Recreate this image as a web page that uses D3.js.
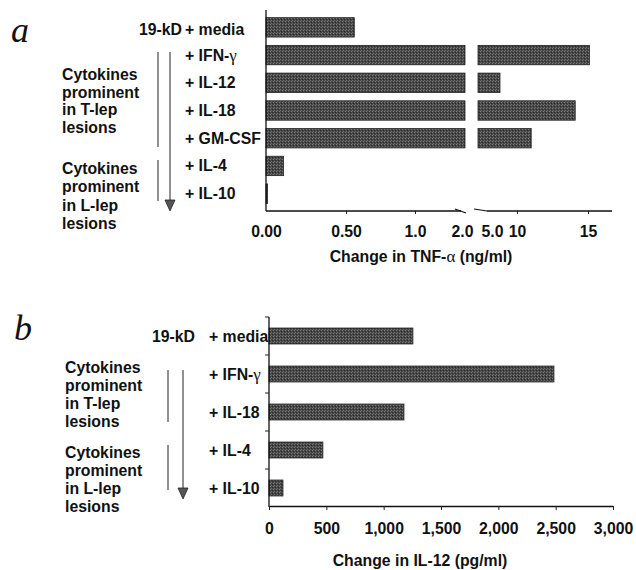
<!DOCTYPE html>
<html>
<head>
<meta charset="utf-8">
<script src="https://cdn.jsdelivr.net/npm/d3@7"></script>
<style>
  body { margin: 0; background: #fff; }
  svg { display: block; }
  text { font-family: "Liberation Sans", Arial, sans-serif; font-weight: bold; fill: #111; }
</style>
</head>
<body>
<svg id="chart" width="636" height="570"></svg>
<script>
// panel a: TNF-alpha
const treatA = ["+ media", "+ IFN-\u03b3", "+ IL-12", "+ IL-18", "+ GM-CSF", "+ IL-4", "+ IL-10"];
const tnf = [0.56, 15.1, 6.6, 14.1, 11.0, 0.11, 0.01];
const tnfTicks = [0, 0.5, 1, 2, 5, 10, 15];
const tnfTickLabels = ["0.00", "0.50", "1.0", "2.0", "5.0", "10", "15"];
const tnfBreak = 2;   // value where axis is broken

// panel b: IL-12
const treatB = ["+ media", "+ IFN-\u03b3", "+ IL-18", "+ IL-4", "+ IL-10"];
const il12 = [1255, 2485, 1177, 470, 122];
const il12Ticks = [0, 500, 1000, 1500, 2000, 2500, 3000];

const groupLines = [["Cytokines", "prominent", "in T-lep", "lesions"],
                    ["Cytokines", "prominent", "in L-lep", "lesions"]];

const svg = d3.select("#chart");
const FS = "15.8px";

// stippled grey fill like the printed figure
const defs = svg.append("defs");
const pat = defs.append("pattern").attr("id", "stip")
    .attr("width", 3).attr("height", 3).attr("patternUnits", "userSpaceOnUse");
pat.append("rect").attr("width", 3).attr("height", 3).attr("fill", "#474747");
pat.append("rect").attr("x", 0).attr("y", 0).attr("width", 1).attr("height", 1).attr("fill", "#7c7c7c");
pat.append("rect").attr("x", 2).attr("y", 1).attr("width", 1).attr("height", 1).attr("fill", "#262626");
pat.append("rect").attr("x", 1).attr("y", 2).attr("width", 1).attr("height", 1).attr("fill", "#6a6a6a");

function label(g, x, y, str, anchor) {
    const t = g.append("text").attr("x", x).attr("y", y)
        .style("font-size", FS)
        .attr("text-anchor", anchor || "start");
    // greek letters in a serif face, as in the print
    const parts = str.split(/([\u03b1\u03b3])/);
    parts.forEach(p => {
        if (p === "\u03b3" || p === "\u03b1") {
            t.append("tspan").style("font-family", "'Liberation Serif', serif")
                .style("font-weight", "normal").style("font-size", "17px").text(p);
        } else {
            t.append("tspan").text(p);
        }
    });
    return t;
}

function panelLetter(g, x, y, s) {
    g.append("text").attr("x", x).attr("y", y)
        .style("font-family", "'Liberation Serif', serif").style("font-style", "italic")
        .style("font-weight", "normal").style("font-size", "36px").text(s);
}

function groupText(g, x, y0, lines, step) {
    lines.forEach((s, i) => label(g, x, y0 + i * step, s));
}

function arrows(g, xs, xl, t0, t1, l0, l1, tip) {
    g.append("line").attr("x1", xs).attr("x2", xs).attr("y1", t0).attr("y2", t1);
    g.append("line").attr("x1", xs).attr("x2", xs).attr("y1", l0).attr("y2", l1);
    g.append("line").attr("x1", xl).attr("x2", xl).attr("y1", t0).attr("y2", tip - 8);
    g.append("path")
        .attr("d", `M${xl - 5},${tip - 11}L${xl + 5},${tip - 11}L${xl},${tip}Z`)
        .attr("fill", "#555").attr("stroke", "#222").attr("stroke-width", 0.8);
    g.selectAll("line").attr("stroke", "#222").attr("stroke-width", 1);
}

function styleTicks(ax) {
    ax.selectAll(".tick line").attr("stroke", "#222");
    ax.selectAll(".tick text").style("font-size", FS).attr("fill", "#111");
}

// ---------------- panel a ----------------
const ga = svg.append("g");
const xA = d3.scaleLinear().domain(tnfTicks).range([266, 346, 415, 462, 492, 517, 588]);
const yA = d3.scaleBand().domain(treatA).range([13.5, 207.5]).paddingInner(0.3).paddingOuter(0.15);
const breakL = xA(tnfBreak) + 3, breakR = breakL + 13;

panelLetter(ga, 11, 42, "a");

// bars (split at the axis break)
treatA.forEach((c, i) => {
    const v = tnf[i];
    ga.append("rect").attr("x", xA(0)).attr("y", yA(c))
        .attr("width", (v > tnfBreak ? breakL : xA(v)) - xA(0))
        .attr("height", yA.bandwidth())
        .attr("fill", "url(#stip)").attr("stroke", "#222").attr("stroke-width", 0.8);
    if (v > tnfBreak) {
        ga.append("rect").attr("x", breakR).attr("y", yA(c))
            .attr("width", xA(v) - breakR).attr("height", yA.bandwidth())
            .attr("fill", "url(#stip)").attr("stroke", "#222").attr("stroke-width", 0.8);
    }
});

// axes
const axA = ga.append("g").attr("transform", "translate(0,211)")
    .call(d3.axisBottom(xA).tickValues(tnfTicks)
        .tickFormat((d, i) => tnfTickLabels[i]).tickSizeInner(3).tickSizeOuter(0).tickPadding(12));
axA.select(".domain").remove();
axA.selectAll(".tick").filter(d => d === 2 || d === 5 || d === 0).select("line").remove();
styleTicks(axA);
axA.append("path").attr("d", `M${xA(0)},0H${breakL - 4}M${breakR + 9},0H612`)
    .attr("stroke", "#111").attr("stroke-width", 1.3);
axA.append("path")
    .attr("d", `M${breakL - 10},-2L${breakL + 1},2M${breakR - 4},-2L${breakR + 9},0`)
    .attr("stroke", "#111").attr("stroke-width", 1.1).attr("fill", "none");
ga.append("line").attr("x1", xA(0)).attr("x2", xA(0)).attr("y1", 10).attr("y2", 211)
    .attr("stroke", "#111").attr("stroke-width", 1.3);

// row labels
label(ga, 182, yA(treatA[0]) + yA.bandwidth() / 2 + 8, "19-kD", "end");
treatA.forEach((c, i) => {
    label(ga, 185, yA(c) + yA.bandwidth() / 2 + (i === 0 ? 8 : 5.5), c);
});
groupText(ga, 62, 80, groupLines[0], 17.7);
groupText(ga, 62, 174, groupLines[1], 18.3);
arrows(ga.append("g"), 158, 170, 52, 147, 160, 201, 211);

label(ga, 421, 262, "Change in TNF-\u03b1 (ng/ml)", "middle");

// ---------------- panel b ----------------
const gb = svg.append("g");
const xB = d3.scaleLinear().domain([0, 3000]).range([269, 613]);
const yB = d3.scaleBand().domain(treatB).range([317, 507]).paddingInner(0.58).paddingOuter(0.29);

panelLetter(gb, 14, 340, "b");

gb.selectAll("rect.bar").data(treatB).join("rect").attr("class", "bar")
    .attr("x", xB(0)).attr("y", d => yB(d))
    .attr("width", (d, i) => xB(il12[i]) - xB(0)).attr("height", yB.bandwidth())
    .attr("fill", "url(#stip)").attr("stroke", "#222").attr("stroke-width", 0.8);

const axB = gb.append("g").attr("transform", "translate(0,506)")
    .call(d3.axisBottom(xB).tickValues(il12Ticks).tickFormat(d3.format(","))
        .tickSizeInner(4).tickSizeOuter(0).tickPadding(13));
axB.select(".domain").attr("stroke", "#111").attr("stroke-width", 1.3);
styleTicks(axB);

// y axis with ticks at band edges
const edges = d3.range(treatB.length + 1).map(i => yB.range()[0] + i * yB.step());
gb.append("line").attr("x1", xB(0)).attr("x2", xB(0)).attr("y1", edges[0]).attr("y2", 507)
    .attr("stroke", "#111").attr("stroke-width", 1.3);
gb.selectAll("line.ytick").data(edges.slice(0, -1)).join("line").attr("class", "ytick")
    .attr("x1", xB(0) - 4).attr("x2", xB(0)).attr("y1", d => d).attr("y2", d => d)
    .attr("stroke", "#222");

label(gb, 195, yB(treatB[0]) + yB.bandwidth() / 2 + 6, "19-kD", "end");
treatB.forEach(c => label(gb, 209, yB(c) + yB.bandwidth() / 2 + 6, c));
groupText(gb, 65, 373, groupLines[0], 18);
groupText(gb, 65, 458, groupLines[1], 18);
arrows(gb.append("g"), 168, 183, 370, 422, 445, 490, 499);

label(gb, 420, 566, "Change in IL-12 (pg/ml)", "middle");
</script>
</body>
</html>
